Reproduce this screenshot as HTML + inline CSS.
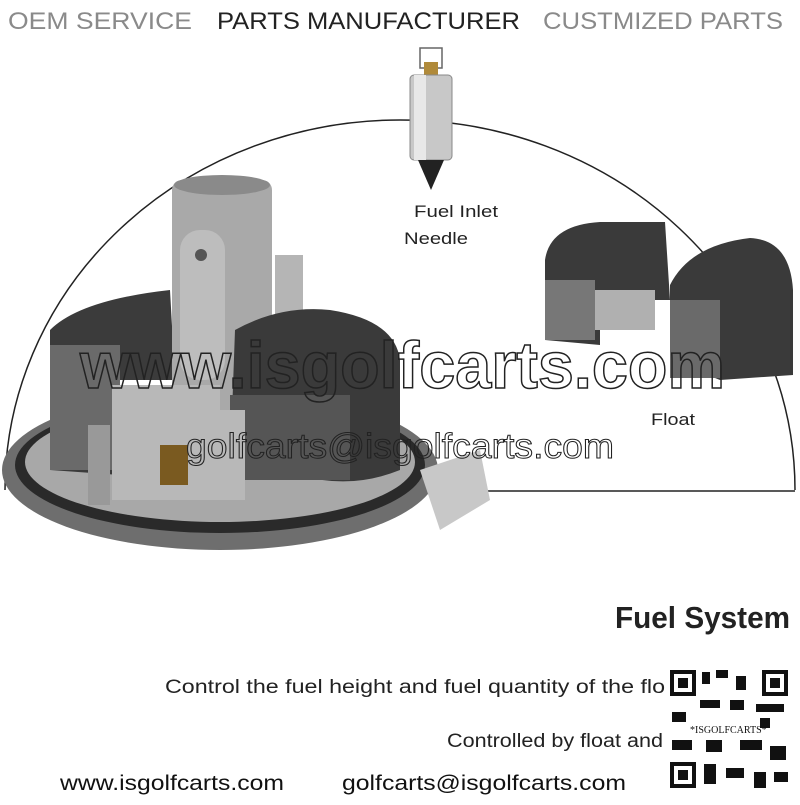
<!DOCTYPE html>
<html><head><style>
body{margin:0;width:800px;height:800px;background:#fff;overflow:hidden;font-family:"Liberation Sans",sans-serif}
</style></head><body>
<svg width="800" height="800" viewBox="0 0 800 800" xmlns="http://www.w3.org/2000/svg">
<text x="8" y="29" font-size="24" fill="#8a8a8a" textLength="184" lengthAdjust="spacingAndGlyphs">OEM SERVICE</text>
<text x="217" y="29" font-size="24" fill="#222" textLength="303" lengthAdjust="spacingAndGlyphs">PARTS MANUFACTURER</text>
<text x="543" y="29" font-size="24" fill="#8a8a8a" textLength="240" lengthAdjust="spacingAndGlyphs">CUSTMIZED PARTS</text>
<path d="M5 490 A395 370 0 0 1 795 490" fill="none" stroke="#222" stroke-width="1.5"/>
<line x1="300" y1="491" x2="795" y2="491" stroke="#222" stroke-width="1.5"/>
<rect x="420" y="48" width="22" height="20" fill="none" stroke="#666" stroke-width="1.5"/>
<rect x="424" y="62" width="14" height="14" fill="#b08a3a"/>
<rect x="410" y="75" width="42" height="85" rx="4" fill="#c8c8c8" stroke="#888"/>
<rect x="414" y="75" width="12" height="85" fill="#e8e8e8"/>
<path d="M418 160 L444 160 L431 190 Z" fill="#222"/>
<text x="414" y="217" font-size="17" fill="#222" textLength="84" lengthAdjust="spacingAndGlyphs">Fuel Inlet</text>
<text x="404" y="244" font-size="17" fill="#222" textLength="64" lengthAdjust="spacingAndGlyphs">Needle</text>
<path d="M545 260 Q550 225 600 222 L665 222 L670 300 L600 300 L600 345 L545 340 Z" fill="#3a3a3a"/>
<rect x="545" y="280" width="50" height="60" fill="#777"/>
<path d="M670 285 Q690 245 750 238 Q790 240 793 290 L793 375 L720 380 L670 360 Z" fill="#3a3a3a"/>
<rect x="670" y="300" width="50" height="78" fill="#6a6a6a"/>
<rect x="595" y="290" width="60" height="40" fill="#b0b0b0"/>
<text x="651" y="425" font-size="17" fill="#222" textLength="44" lengthAdjust="spacingAndGlyphs">Float</text>
<ellipse cx="220" cy="470" rx="218" ry="80" fill="#6e6e6e"/>
<ellipse cx="220" cy="465" rx="205" ry="68" fill="#2a2a2a"/>
<ellipse cx="220" cy="462" rx="195" ry="60" fill="#a8a8a8"/>
<path d="M420 470 L480 450 L490 500 L440 530 Z" fill="#c8c8c8"/>
<path d="M50 330 Q80 300 170 290 L175 380 L120 380 L120 475 L50 470 Z" fill="#3b3b3b"/>
<rect x="50" y="345" width="70" height="125" fill="#6a6a6a"/>
<rect x="172" y="180" width="100" height="230" rx="10" fill="#a9a9a9"/>
<ellipse cx="222" cy="185" rx="48" ry="10" fill="#8a8a8a"/>
<rect x="275" y="255" width="28" height="130" fill="#b5b5b5"/>
<rect x="180" y="230" width="45" height="150" rx="20" fill="#bdbdbd"/>
<circle cx="201" cy="255" r="6" fill="#555"/>
<path d="M235 330 Q280 305 330 310 Q395 320 400 360 L400 470 Q350 490 300 475 L230 470 Z" fill="#3a3a3a"/>
<rect x="230" y="395" width="120" height="85" fill="#555"/>
<path d="M112 385 L220 385 L220 410 L245 410 L245 500 L112 500 Z" fill="#b8b8b8"/>
<rect x="88" y="425" width="22" height="80" fill="#999"/>
<rect x="160" y="445" width="28" height="40" fill="#7a5a20"/>
<text x="80" y="388" font-size="66" font-weight="bold" fill="none" stroke="#222" stroke-width="1.5" textLength="645" lengthAdjust="spacingAndGlyphs">www.isgolfcarts.com</text>
<text x="186" y="458" font-size="35" fill="none" stroke="#222" stroke-width="1" textLength="428" lengthAdjust="spacingAndGlyphs">golfcarts@isgolfcarts.com</text>
<text x="615" y="628" font-size="31" font-weight="bold" fill="#222" textLength="175" lengthAdjust="spacingAndGlyphs">Fuel System</text>
<text x="165" y="693" font-size="19" fill="#222" textLength="500" lengthAdjust="spacingAndGlyphs">Control the fuel height and fuel quantity of the flo</text>
<text x="447" y="747" font-size="19" fill="#222" textLength="216" lengthAdjust="spacingAndGlyphs">Controlled by float and</text>
<g fill="#111">
<rect x="668" y="668" width="122" height="122" fill="#fff"/>
<rect x="670" y="670" width="26" height="26"/><rect x="674" y="674" width="18" height="18" fill="#fff"/><rect x="678" y="678" width="10" height="10"/>
<rect x="762" y="670" width="26" height="26"/><rect x="766" y="674" width="18" height="18" fill="#fff"/><rect x="770" y="678" width="10" height="10"/>
<rect x="670" y="762" width="26" height="26"/><rect x="674" y="766" width="18" height="18" fill="#fff"/><rect x="678" y="770" width="10" height="10"/>
<rect x="702" y="672" width="8" height="12"/><rect x="716" y="670" width="12" height="8"/><rect x="736" y="676" width="10" height="14"/><rect x="700" y="700" width="20" height="8"/><rect x="730" y="700" width="14" height="10"/><rect x="756" y="704" width="28" height="8"/>
<rect x="672" y="712" width="14" height="10"/><rect x="706" y="740" width="16" height="12"/><rect x="740" y="740" width="22" height="10"/><rect x="770" y="746" width="16" height="14"/>
<rect x="704" y="764" width="12" height="20"/><rect x="726" y="768" width="18" height="10"/><rect x="754" y="772" width="12" height="16"/><rect x="774" y="772" width="14" height="10"/>
<rect x="672" y="740" width="20" height="10"/><rect x="760" y="718" width="10" height="10"/>
</g>
<text x="690" y="733" font-size="10" font-family="Liberation Serif" fill="#111">*ISGOLFCARTS*</text>
<text x="60" y="790" font-size="21" fill="#111" textLength="224" lengthAdjust="spacingAndGlyphs">www.isgolfcarts.com</text>
<text x="342" y="790" font-size="21" fill="#111" textLength="284" lengthAdjust="spacingAndGlyphs">golfcarts@isgolfcarts.com</text>
</svg>
</body></html>
